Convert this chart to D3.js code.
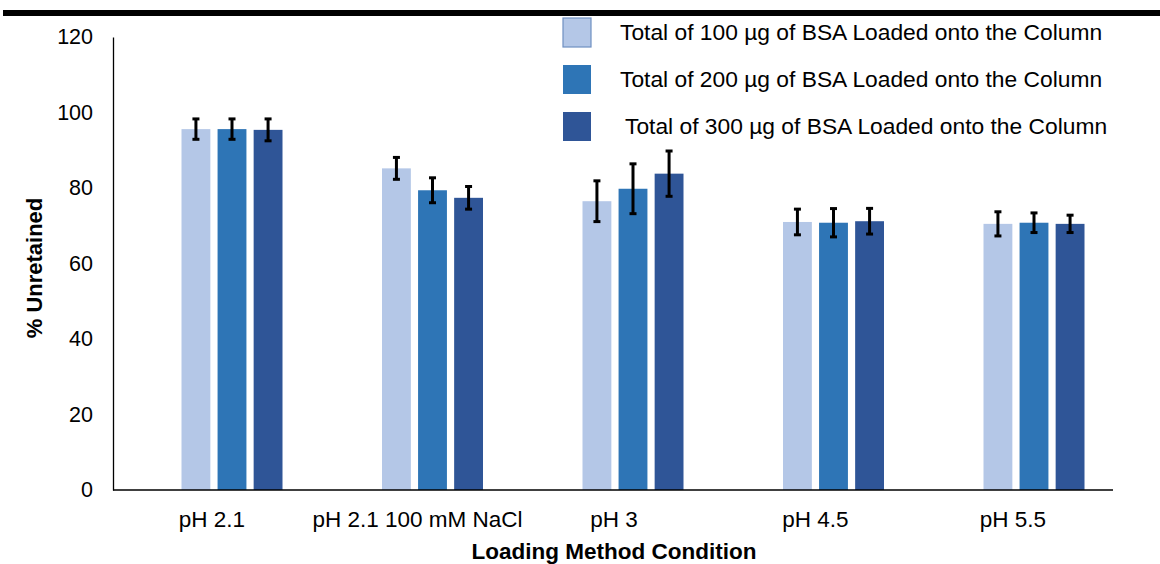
<!DOCTYPE html>
<html>
<head>
<meta charset="utf-8">
<script src="https://cdn.jsdelivr.net/npm/d3@7/dist/d3.min.js"></script>
<style>
  html, body { margin: 0; padding: 0; background: #fff; }
  svg { display: block; font-family: "Liberation Sans", Arial, sans-serif; }
</style>
</head>
<body>
<svg id="chart" width="1160" height="564"></svg>
<script>
// Loading conditions (x categories)
const categories = ["pH 2.1", "pH 2.1 100 mM NaCl", "pH 3", "pH 4.5", "pH 5.5"];

// Series names (legend)
const seriesNames = [
  "Total of 100 \u00b5g of BSA Loaded onto the Column",
  "Total of 200 \u00b5g of BSA Loaded onto the Column",
  "Total of 300 \u00b5g of BSA Loaded onto the Column"
];

// Mean % unretained per series, one value per condition
const bsa100 = [95.6, 85.2, 76.5, 71.0, 70.5];
const bsa200 = [95.6, 79.4, 79.8, 70.8, 70.8];
const bsa300 = [95.4, 77.4, 83.8, 71.2, 70.5];

// Error bar half-widths (standard deviation)
const err100 = [2.7, 2.9, 5.4, 3.4, 3.2];
const err200 = [2.7, 3.3, 6.6, 3.75, 2.6];
const err300 = [2.9, 3.0, 6.0, 3.4, 2.3];

// Y axis ticks
const yTicks = [0, 20, 40, 60, 80, 100, 120];

const seriesValues = [bsa100, bsa200, bsa300];
const seriesErrors = [err100, err200, err300];
const colors = ["#b4c7e7", "#2e75b6", "#2f5597"];

// Horizontal nudges for the category labels
const labelNudge = [-20, -15, -19, -18, -21];

const svg = d3.select("#chart");

// Heavy rule across the top
svg.append("rect").attr("x", 3).attr("y", 10).attr("width", 1157).attr("height", 6).attr("fill", "#000");

const y = d3.scaleLinear().domain([0, 120]).range([490, 37]);

// Group centres across the plot
const xc = d3.scalePoint().domain(categories).range([232, 1034]);
const xs = d3.scaleBand().domain([0, 1, 2]).range([-50.5, 50.5]).paddingInner(0.2).paddingOuter(0);

const plot = svg.append("g");

// Bars
seriesValues.forEach((vals, s) => {
  plot.selectAll(null)
    .data(categories.map((c, i) => ({ c, v: vals[i], e: seriesErrors[s][i] })))
    .join("rect")
    .attr("x", d => xc(d.c) + xs(s))
    .attr("y", d => y(d.v))
    .attr("width", xs.bandwidth())
    .attr("height", d => y(0) - y(d.v))
    .attr("fill", colors[s]);
});

// Error bars
seriesValues.forEach((vals, s) => {
  const data = categories.map((c, i) => ({ c, v: vals[i], e: seriesErrors[s][i] }));
  const g = plot.append("g").attr("stroke", "#000").attr("stroke-width", 3);
  const cx = d => xc(d.c) + xs(s) + xs.bandwidth() / 2;
  g.selectAll(null).data(data).join("line")
    .attr("x1", cx).attr("x2", cx)
    .attr("y1", d => y(d.v + d.e)).attr("y2", d => y(d.v - d.e));
  g.selectAll(null).data(data).join("line")
    .attr("x1", d => cx(d) - 3.5).attr("x2", d => cx(d) + 3.5)
    .attr("y1", d => y(d.v + d.e)).attr("y2", d => y(d.v + d.e));
  g.selectAll(null).data(data).join("line")
    .attr("x1", d => cx(d) - 3.5).attr("x2", d => cx(d) + 3.5)
    .attr("y1", d => y(d.v - d.e)).attr("y2", d => y(d.v - d.e));
});

// Y axis
const yAxis = d3.axisLeft(y).tickValues(yTicks).tickSize(0).tickPadding(20);
const yg = svg.append("g").attr("transform", "translate(113,0)").call(yAxis);
yg.select(".domain").attr("stroke", "#000").attr("stroke-width", 1.3);
yg.selectAll("text").attr("font-size", 21.5).attr("fill", "#000").attr("font-family", "Liberation Sans, Arial, sans-serif");

// X axis baseline
svg.append("line").attr("x1", 113).attr("x2", 1113).attr("y1", 490).attr("y2", 490)
  .attr("stroke", "#000").attr("stroke-width", 1.5);

// Category labels
svg.append("g").selectAll("text").data(categories).join("text")
  .attr("x", (d, i) => xc(d) + labelNudge[i])
  .attr("y", 527)
  .attr("text-anchor", "middle")
  .attr("font-size", 22.5)
  .attr("fill", "#000")
  .text(d => d);

// Axis titles
svg.append("text").attr("x", 614).attr("y", 558.5).attr("text-anchor", "middle")
  .attr("font-size", 22.5).attr("font-weight", "bold").attr("fill", "#000")
  .text("Loading Method Condition");

svg.append("text").attr("transform", "translate(41.5,268) rotate(-90)").attr("text-anchor", "middle")
  .attr("font-size", 22).attr("font-weight", "bold").attr("fill", "#000")
  .text("% Unretained");

// Legend
const legendY = d3.scalePoint().domain(seriesNames).range([32, 126]);
const legend = svg.append("g");
legend.selectAll("rect").data(seriesNames).join("rect")
  .attr("x", 563).attr("y", d => legendY(d) - 14)
  .attr("width", 28).attr("height", 29)
  .attr("fill", (d, i) => colors[i])
  .attr("stroke", (d, i) => i === 0 ? "#6f8fc2" : "none")
  .attr("stroke-width", 1.2);
legend.selectAll("text").data(seriesNames).join("text")
  .attr("x", (d, i) => i === 2 ? 625 : 620)
  .attr("y", d => legendY(d) + 8)
  .attr("font-size", 22.8)
  .attr("fill", "#000")
  .text(d => d);
</script>
</body>
</html>
